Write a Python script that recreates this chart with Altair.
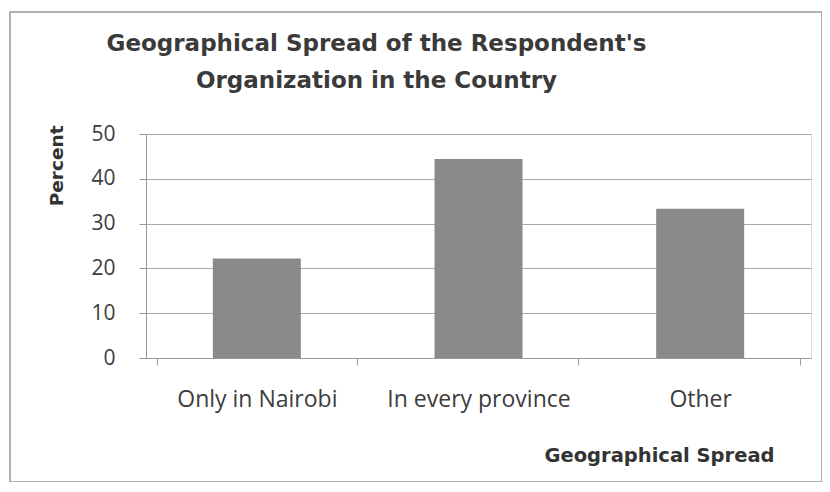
import altair as alt
import pandas as pd

categories = ["Only in Nairobi", "In every province", "Other"]
percents = [22.2, 44.4, 33.3]

df = pd.DataFrame({"spread": categories, "percent": percents})
FONT = "Open Sans"
BFONT = "DejaVu Sans"

bars = alt.Chart(df).mark_bar(color="#8a8a8a", size=88).encode(
    x=alt.X("spread:N", sort=categories,
            title="Geographical Spread",
            axis=alt.Axis(labelAngle=0, labelFontSize=23, labelColor="#3d3d3d", labelFont=FONT,
                          labelPadding=23, labelLimit=400, tickBand="extent", tickSize=7,
                          tickColor="#999", domainColor="#999", titleFont=BFONT,
                          titleFontSize=19.5, titleFontWeight="bold", titleColor="#333",
                          titleAnchor="end", titleAlign="right", titleX=628, titleY=97,
                          titleBaseline="middle")),
    y=alt.Y("percent:Q", title="Percent",
            scale=alt.Scale(domain=[0, 50]),
            axis=alt.Axis(values=[0, 10, 20, 30, 40, 50], labelFontSize=21, labelColor="#3d3d3d",
                          labelFont=FONT, labelPadding=24, tickSize=7, tickColor="#999",
                          domainColor="#999", gridColor="#aaa", titleFont=BFONT, titleFontSize=18.5,
                          titleFontWeight="bold", titleColor="#333", titleAnchor="end",
                          titleAngle=-90, titleX=-90, titleY=-9, titleAlign="right",
                          titleBaseline="middle")),
)

border_df = pd.DataFrame({"b": [1]})
border = alt.Chart(border_df).mark_rect(fill=None, stroke="#999", strokeWidth=1.5).encode(
    x=alt.value(-136), x2=alt.value(676), y=alt.value(-122), y2=alt.value(348)
)

chart = alt.layer(bars, border).properties(
    width=665, height=224,
    title=alt.TitleParams(
        ["Geographical Spread of the Respondent's", "Organization in the Country"],
        font=BFONT, fontSize=23, fontWeight="bold", color="#3a3a3a",
        anchor="middle", frame="group", dx=-102, offset=-82, lineHeight=37),
    autosize=alt.AutoSizeParams(type="none"),
    padding={"left": 138, "top": 126, "right": 11, "bottom": 124},
).configure_view(stroke=None).configure(background="white")

chart.save("out.html", embed_options={"renderer": "svg", "actions": False})
